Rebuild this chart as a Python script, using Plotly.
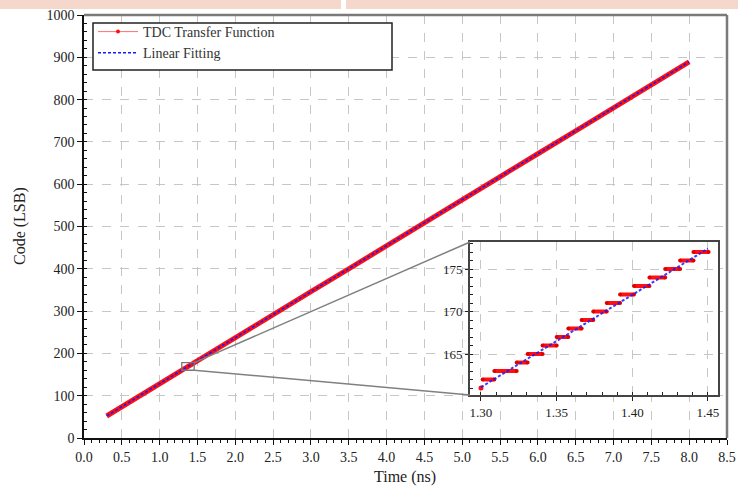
import plotly.graph_objects as go

# Measured TDC transfer function, sampled along the full input range
time_ns = [0.3, 0.5, 1.0, 1.5, 2.0, 2.5, 3.0, 3.5, 4.0, 4.5, 5.0, 5.5, 6.0, 6.5, 7.0, 7.5, 8.0]
code_lsb = [52, 74, 128, 183, 237, 292, 346, 400, 455, 509, 563, 618, 672, 726, 781, 835, 889]

# Linear fit of the transfer function
fit_time = [0.3, 8.0]
fit_code = [52.4, 889.4]

# Zoomed view: individual output codes and the time window each one covers
step_code = [162, 163, 164, 165, 166, 167, 168, 169, 170, 171, 172, 173, 174, 175, 176, 177]
step_start = [1.3011, 1.3088, 1.3236, 1.3308, 1.3407, 1.3500, 1.3577, 1.3665,
              1.3742, 1.3831, 1.3919, 1.4011, 1.4113, 1.4217, 1.4316, 1.4404]
step_end = [1.3088, 1.3236, 1.3308, 1.3407, 1.3500, 1.3577, 1.3665, 1.3742,
            1.3831, 1.3919, 1.4011, 1.4113, 1.4217, 1.4316, 1.4404, 1.4504]
first_sample = (1.300, 161)
fit_zoom_time = [1.300, 1.450]
fit_zoom_code = [161.1, 177.4]

x_ticks = [i * 0.5 for i in range(18)]
x_tick_text = [f"{v:.1f}" for v in x_ticks]
y_ticks = list(range(0, 1001, 100))
zoom_x_ticks = [1.30, 1.35, 1.40, 1.45]
zoom_x_text = ["1.30", "1.35", "1.40", "1.45"]
zoom_y_ticks = [165, 170, 175]

x_title = "Time (ns)"
y_title = "Code (LSB)"

RED = "#ff1010"
BLUE = "#1a1aff"
FONT = "Liberation Serif"
GRID = "#c6c6c6"

X_RANGE = [0, 8.5]
Y_RANGE = [0, 1000]
ZOOM_X_RANGE = [1.29273, 1.45661]
ZOOM_Y_RANGE = [160.18, 178.18]
INSET_X_DOMAIN = [0.6003, 0.986]
INSET_Y_DOMAIN = [0.1017, 0.4634]

PLOT_W, PLOT_H = 643, 423
ML, MT = 84, 15


def px_x(px):
    return (px - ML) / PLOT_W


def px_y(py):
    return (MT + PLOT_H - py) / PLOT_H


fig = go.Figure()

# main plot
fig.add_trace(go.Scatter(x=time_ns, y=code_lsb, mode="lines", line=dict(color=RED, width=5),
                         showlegend=False, xaxis="x", yaxis="y"))
fig.add_trace(go.Scatter(x=fit_time, y=fit_code, mode="lines",
                         line=dict(color=BLUE, width=1.6, dash="3px,2px"),
                         showlegend=False, xaxis="x", yaxis="y"))

# legend entries
fig.add_trace(go.Scatter(x=[None], y=[None], mode="lines+markers", name="TDC Transfer Function",
                         line=dict(color="#ff7070", width=1), marker=dict(color=RED, size=4)))
fig.add_trace(go.Scatter(x=[None], y=[None], mode="lines", name="Linear Fitting",
                         line=dict(color=BLUE, width=1.5, dash="3px,2px")))

# inset staircase
sx, sy = [], []
for c, a, b in zip(step_code, step_start, step_end):
    sx += [a, b, None]
    sy += [c, c, None]
fig.add_trace(go.Scatter(x=sx, y=sy, mode="lines+markers", line=dict(color=RED, width=4),
                         marker=dict(color="#e00000", size=4), showlegend=False,
                         xaxis="x2", yaxis="y2", connectgaps=False))
fig.add_trace(go.Scatter(x=[first_sample[0]], y=[first_sample[1]], mode="markers",
                         marker=dict(color=RED, size=5), showlegend=False,
                         xaxis="x2", yaxis="y2"))
fig.add_trace(go.Scatter(x=fit_zoom_time, y=fit_zoom_code, mode="lines",
                         line=dict(color=BLUE, width=2, dash="3px,2px"), opacity=0.85,
                         showlegend=False, xaxis="x2", yaxis="y2"))

tickfont = dict(family=FONT, size=14, color="#222")
inset_tickfont = dict(family=FONT, size=13, color="#222")
title_font = dict(family=FONT, size=16, color="#222")

fig.update_layout(
    width=738, height=491,
    margin=dict(l=ML, r=738 - ML - PLOT_W, t=MT, b=491 - MT - PLOT_H, autoexpand=False),
    paper_bgcolor="white", plot_bgcolor="white",
    font=dict(family=FONT, color="#222"),
    xaxis=dict(range=X_RANGE, domain=[0, 1], tickvals=x_ticks, ticktext=x_tick_text,
               showgrid=True, gridcolor=GRID, griddash="dash", gridwidth=1,
               showline=True, linecolor="#111", linewidth=1.5,
               ticks="outside", ticklen=5, tickwidth=1.2, tickcolor="#111",
               minor=dict(dtick=0.1, ticks="outside", ticklen=3, tickcolor="#111", showgrid=False),
               tickfont=tickfont, zeroline=False, automargin=False),
    yaxis=dict(range=Y_RANGE, domain=[0, 1], tickvals=y_ticks,
               showgrid=True, gridcolor=GRID, griddash="dash", gridwidth=1,
               showline=True, linecolor="#111", linewidth=1.5,
               ticks="outside", ticklen=5, tickwidth=1.2, tickcolor="#111",
               minor=dict(dtick=20, ticks="inside", ticklen=3, tickcolor="#111", showgrid=False),
               tickfont=tickfont, zeroline=False, automargin=False),
    xaxis2=dict(range=ZOOM_X_RANGE, domain=INSET_X_DOMAIN, anchor="y2",
                tickvals=zoom_x_ticks, ticktext=zoom_x_text,
                showgrid=True, gridcolor=GRID, griddash="dash", gridwidth=1,
                showline=True, mirror=True, linecolor="#444", linewidth=2,
                ticks="outside", ticklen=4, tickcolor="#222",
                minor=dict(dtick=0.01, tick0=1.30, ticks="inside", ticklen=3, tickcolor="#222", showgrid=False),
                tickfont=inset_tickfont, zeroline=False, automargin=False),
    yaxis2=dict(range=ZOOM_Y_RANGE, domain=INSET_Y_DOMAIN, anchor="x2",
                tickvals=zoom_y_ticks,
                showgrid=True, gridcolor=GRID, griddash="dash", gridwidth=1,
                showline=True, mirror=True, linecolor="#444", linewidth=2,
                ticks="outside", ticklen=3, tickcolor="#222",
                minor=dict(dtick=1, ticks="inside", ticklen=3, tickcolor="#222", showgrid=False),
                tickfont=inset_tickfont, zeroline=False, automargin=False),
    legend=dict(x=px_x(93), y=px_y(16), xanchor="left", yanchor="top",
                bgcolor="rgba(0,0,0,0)", borderwidth=0,
                font=dict(family=FONT, size=14, color="#333"),
                itemwidth=40, tracegroupgap=0),
)

# axis titles
fig.add_annotation(text=x_title, xref="paper", yref="paper", x=px_x(405), y=px_y(477),
                   xanchor="center", yanchor="middle", showarrow=False, font=title_font)
fig.add_annotation(text=y_title, xref="paper", yref="paper", x=px_x(20), y=px_y(226),
                   xanchor="center", yanchor="middle", showarrow=False, textangle=-90, font=title_font)

# legend frame
fig.add_shape(type="rect", xref="paper", yref="paper",
              x0=px_x(93), x1=px_x(392), y0=px_y(70), y1=px_y(23),
              fillcolor="white", line=dict(color="#222", width=1.5))

# frame on the top and right of the main plot
fig.add_shape(type="line", xref="paper", yref="paper", x0=0, x1=1, y0=1, y1=1,
              line=dict(color="#7a7a7a", width=2.5))
fig.add_shape(type="line", xref="paper", yref="paper", x0=1, x1=1, y0=0, y1=1,
              line=dict(color="#7a7a7a", width=2.5))

# zoom window marker in the main plot and its connector lines to the inset
fig.add_shape(type="rect", xref="x", yref="y",
              x0=ZOOM_X_RANGE[0], x1=ZOOM_X_RANGE[1], y0=ZOOM_Y_RANGE[0], y1=ZOOM_Y_RANGE[1],
              line=dict(color="#777", width=1.3))
inset_left = INSET_X_DOMAIN[0] * (X_RANGE[1] - X_RANGE[0]) + X_RANGE[0]
inset_top = INSET_Y_DOMAIN[1] * (Y_RANGE[1] - Y_RANGE[0]) + Y_RANGE[0]
inset_bottom = INSET_Y_DOMAIN[0] * (Y_RANGE[1] - Y_RANGE[0]) + Y_RANGE[0]
fig.add_shape(type="line", xref="x", yref="y", x0=ZOOM_X_RANGE[1], y0=ZOOM_Y_RANGE[1],
              x1=inset_left, y1=inset_top, line=dict(color="#808080", width=1.5))
fig.add_shape(type="line", xref="x", yref="y", x0=ZOOM_X_RANGE[1], y0=ZOOM_Y_RANGE[0],
              x1=inset_left, y1=inset_bottom, line=dict(color="#808080", width=1.5))

# page header strip
fig.add_shape(type="rect", xref="paper", yref="paper", x0=px_x(0), x1=px_x(341),
              y0=px_y(9), y1=px_y(0), fillcolor="#f5d8cb", line=dict(width=0), layer="below")
fig.add_shape(type="rect", xref="paper", yref="paper", x0=px_x(346), x1=px_x(738),
              y0=px_y(9), y1=px_y(0), fillcolor="#f5d8cb", line=dict(width=0), layer="below")

fig.write_html("out.html")
